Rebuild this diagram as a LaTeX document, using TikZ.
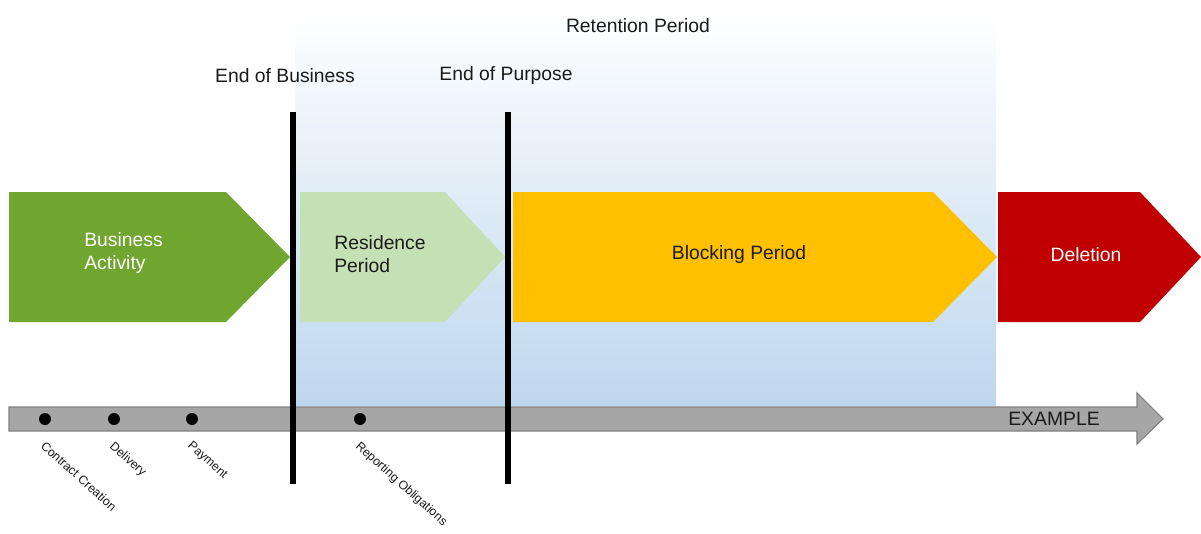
\documentclass[tikz,border=0pt]{standalone}
\usepackage{fontspec}
\setmainfont{Liberation Sans}
\usetikzlibrary{positioning}
\definecolor{bizgreen}{HTML}{70A52F}
\definecolor{resgreen}{HTML}{C5E0B4}
\definecolor{blockorange}{HTML}{FFC000}
\definecolor{delred}{HTML}{C00000}
\definecolor{retblue}{HTML}{BDD7EE}
\definecolor{retmid}{HTML}{E2ECF7}
\definecolor{axisgrey}{HTML}{A6A6A6}
\definecolor{axisline}{HTML}{808080}
\definecolor{ink}{HTML}{1A1A1A}

\begin{document}
\begin{tikzpicture}[x=0.02cm,y=-0.02cm,
    label/.style={font=\fontsize{11}{13}\selectfont,text=ink,inner sep=0pt},
    phase/.style={font=\fontsize{11}{13}\selectfont,inner sep=0pt,align=left},
    event/.style={font=\fontsize{7}{8}\selectfont,text=ink,inner sep=0pt,anchor=north west,rotate=-42},
    dot/.style={circle,fill=black,inner sep=0pt,minimum size=0.24cm},
    marker/.style={line width=0.12cm,black}]
    \useasboundingbox (0,0) rectangle (1201,534);

    % retention period background
    \shade[top color=white,middle color=retmid,bottom color=retblue] (295,10) rectangle (996,405);
    \node[label] (retention) at (638,26) {Retention Period};

    % phases
    \fill[bizgreen] (9,192) -- (226,192) -- (290,257) -- (226,322) -- (9,322) -- cycle;
    \fill[resgreen] (300,192) -- (445,192) -- (505,257) -- (445,322) -- (300,322) -- cycle;
    \fill[blockorange] (513,192) -- (933,192) -- (997,257) -- (933,322) -- (513,322) -- cycle;
    \fill[delred] (998,192) -- (1140,192) -- (1201,257) -- (1140,322) -- (998,322) -- cycle;
    \node[phase,text=white,anchor=west] (business) at (84,253) {Business\\Activity};
    \node[phase,text=ink,anchor=west] (residence) at (334,254) {Residence\\Period};
    \node[phase,text=ink] (blocking) at (739,255) {Blocking Period};
    \node[phase,text=white] (deletion) at (1086,255) {Deletion};

    % time axis
    \filldraw[fill=axisgrey,draw=axisline,line width=0.6pt]
        (9,407) -- (1137,407) -- (1137,393) -- (1163,419) -- (1137,444) -- (1137,431) -- (9,431) -- cycle;
    \node[label] (example) at (1054,419) {EXAMPLE};

    % events on the axis
    \foreach \x/\n/\t in {45/contract/Contract Creation,114/delivery/Delivery,192/payment/Payment,360/reporting/Reporting Obligations}{
        \node[dot] (\n) at (\x,419) {};
        \node[event] (\n-text) at (\x+1,440) {\t};
    }

    % milestones
    \coordinate (eob-top) at (293,112);
    \coordinate (eob-bot) at (293,484);
    \coordinate (eop-top) at (508,112);
    \coordinate (eop-bot) at (508,484);
    \draw[marker] (eob-top) -- (eob-bot);
    \draw[marker] (eop-top) -- (eop-bot);
    \node[label] (eob) at (285,76) {End of Business};
    \node[label] (eop) at (506,76) {End of Purpose};
\end{tikzpicture}
\end{document}
